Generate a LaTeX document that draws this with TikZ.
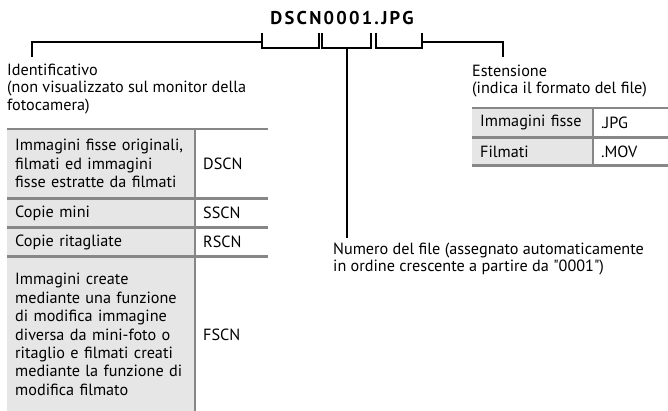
\documentclass[tikz,border=0pt]{standalone}
\usepackage{fontspec}
\setmainfont{PT Sans}
\newfontfamily\spacedfont[LetterSpace=12]{PT Sans}
\usetikzlibrary{positioning}

\definecolor{rulegray}{HTML}{878787}
\definecolor{cellgray}{HTML}{E6E6E6}

\begin{document}
\begin{tikzpicture}[
  x=1pt,y=1pt,
  font=\fontsize{16.2}{18.4}\selectfont,
  lead/.style={line width=1.7pt, black},
  tabrule/.style={line width=2.8pt, rulegray},
  lbl/.style={align=left, anchor=north west, inner sep=0pt, font=\fontsize{16.2}{17.2}\selectfont},
  cellL/.style={fill=cellgray, align=left, text width=#1, inner xsep=8pt, inner ysep=0pt, anchor=north west},
  cellR/.style={fill=white, align=left, text width=#1, inner xsep=8pt, inner ysep=0pt, anchor=north west},
  fname/.style={font=\fontsize{18.5}{20}\selectfont\spacedfont\bfseries, inner sep=0pt},
]
\useasboundingbox (0,0) rectangle (668,-411);

% file name and the brackets under its three parts
\node[fname] (fname) at (342,-18) {DSCN0001.JPG};
\draw[lead] (262,-33) |- (319,-48) -- (319,-33);
\draw[lead] (322,-33) |- (371,-48) -- (371,-33);
\draw[lead] (376,-33) |- (422,-48) -- (422,-33);

% labels
\node[lbl] (idlab) at (7,-64)
  {Identificativo\\(non visualizzato sul monitor della\\fotocamera)};
\node[lbl] (extlab) at (472,-65)
  {Estensione\\(indica il formato del file)};
\node[lbl] (numlab) at (333,-243)
  {Numero del file (assegnato automaticamente\\in ordine crescente a partire da \textquotedbl 0001\textquotedbl)};

% leaders
\draw[lead] (262,-42) -| ([xshift=25pt,yshift=7pt]idlab.north west);
\draw[lead] (422,-42) -| ([xshift=31pt,yshift=8pt]extlab.north west);
\draw[lead] (347,-48) -- ([yshift=5pt]347,-243);

% prefix table (left cells run under the white right cells)
\node[cellL=190pt, minimum height=69pt] (dscnL) at (7,-129)
  {Immagini fisse originali,\\filmati ed immagini\\fisse estratte da filmati};
\node[cellL=190pt, minimum height=29pt, below=0pt of dscnL] (sscnL) {Copie mini};
\node[cellL=190pt, minimum height=28pt, below=0pt of sscnL] (rscnL) {Copie ritagliate};
\node[cellL=190pt, minimum height=156pt, below=0pt of rscnL] (fscnL)
  {Immagini create\\mediante una funzione\\di modifica immagine\\diversa da mini-foto o\\ritaglio e filmati creati\\mediante la funzione di\\modifica filmato};
\node[cellR=57pt, minimum height=69pt] (dscnR) at ([xshift=188pt]dscnL.north west) {DSCN};
\node[cellR=57pt, minimum height=29pt, below=0pt of dscnR] (sscnR) {SSCN};
\node[cellR=57pt, minimum height=28pt, below=0pt of sscnR] (rscnR) {RSCN};
\node[cellR=57pt, minimum height=156pt, below=0pt of rscnR] (fscnR) {FSCN};

\draw[tabrule] (dscnL.north west) -- (dscnR.north east);
\draw[tabrule] (sscnL.north west) -- (sscnR.north east);
\draw[tabrule] (rscnL.north west) -- (rscnR.north east);
\draw[tabrule] (fscnL.north west) -- (fscnR.north east);
\draw[tabrule] (dscnR.north west) -- (fscnR.south west);

% extension table
\node[cellL=130pt, minimum height=29pt] (jpgL) at (472,-108) {Immagini fisse};
\node[cellL=130pt, minimum height=28pt, below=0pt of jpgL] (movL) {Filmati};
\node[cellR=59pt, minimum height=29pt] (jpgR) at ([xshift=121pt]jpgL.north west) {.JPG};
\node[cellR=59pt, minimum height=28pt, below=0pt of jpgR] (movR) {.MOV};

\draw[tabrule] (jpgL.north west) -- (jpgR.north east);
\draw[tabrule] (movL.north west) -- (movR.north east);
\draw[tabrule] (movL.south west) -- (movR.south east);
\draw[tabrule] (jpgR.north west) -- (movR.south west);
\end{tikzpicture}
\end{document}
